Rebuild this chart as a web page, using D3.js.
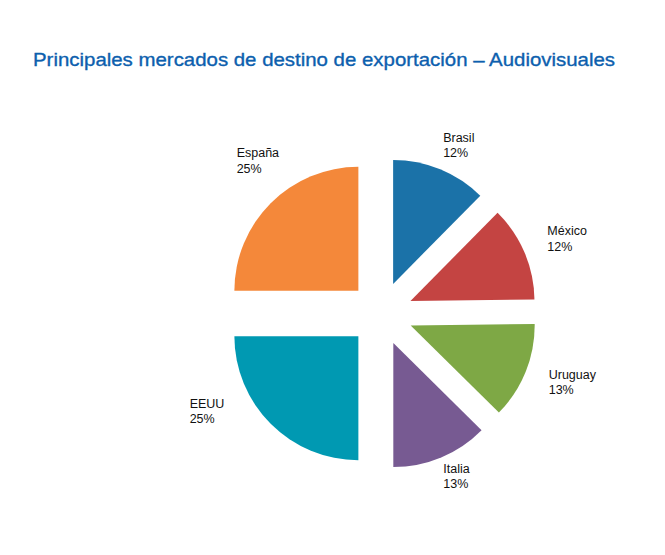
<!DOCTYPE html>
<html>
<head>
<meta charset="utf-8">
<script src="https://cdn.jsdelivr.net/npm/d3@7"></script>
<style>
  html, body { margin: 0; padding: 0; background: #ffffff; }
  svg { display: block; }
</style>
</head>
<body>
<div id="chart"></div>
<script>
// ---- data ----
const categories = ["Brasil", "México", "Uruguay", "Italia", "EEUU", "España"];
const shares = [12.4, 12.4, 12.6, 12.6, 25, 25];
const percentLabels = ["12%", "12%", "13%", "13%", "25%", "25%"];
const colors = ["#1b72a8", "#c44442", "#7ea845", "#775a92", "#0099b2", "#f4883a"];
const titleText = "Principales mercados de destino de exportación – Audiovisuales";

// ---- layout ----
const W = 665, H = 555;
const cx = 381, cy = 313.5;
const radius = 124;
const explode = 32;
const labelRadius = 190;
const labelNudge = [[-10, 4], [-8.5, -4], [-8.5, -6], [-11, -16], [-57, -40], [-10, -22]];

const svg = d3.select("#chart").append("svg")
  .attr("width", W).attr("height", H);

svg.append("text")
  .attr("x", 33).attr("y", 66)
  .attr("font-family", "'Liberation Sans', Arial, sans-serif")
  .attr("font-size", 19)
  .attr("fill", "#0d5fae")
  .attr("stroke", "#0d5fae")
  .attr("stroke-width", 0.35)
  .attr("textLength", 582)
  .attr("lengthAdjust", "spacingAndGlyphs")
  .text(titleText);

const pie = d3.pie().sort(null).value((d, i) => shares[i]);
const arcs = pie(categories);
const arc = d3.arc().innerRadius(0).outerRadius(radius);

const g = svg.append("g").attr("transform", `translate(${cx},${cy})`);

const mid = d => (d.startAngle + d.endAngle) / 2;

g.selectAll("path.slice")
  .data(arcs)
  .join("path")
  .attr("class", "slice")
  .attr("d", arc)
  .attr("fill", (d, i) => colors[i])
  .attr("transform", d => {
    const a = mid(d);
    return `translate(${Math.sin(a) * explode},${-Math.cos(a) * explode})`;
  });

const labels = g.selectAll("text.lbl")
  .data(arcs)
  .join("text")
  .attr("class", "lbl")
  .attr("font-family", "'Liberation Sans', Arial, sans-serif")
  .attr("font-size", 12.5)
  .attr("fill", "#111111")
  .attr("transform", (d, i) => {
    const a = mid(d);
    const x = Math.sin(a) * labelRadius + labelNudge[i][0];
    const y = -Math.cos(a) * labelRadius + labelNudge[i][1];
    return `translate(${x},${y})`;
  });

labels.append("tspan").attr("x", 0).attr("y", 0).text((d, i) => categories[i]);
labels.append("tspan").attr("x", 0).attr("y", 15.5).text((d, i) => percentLabels[i]);
</script>
</body>
</html>
